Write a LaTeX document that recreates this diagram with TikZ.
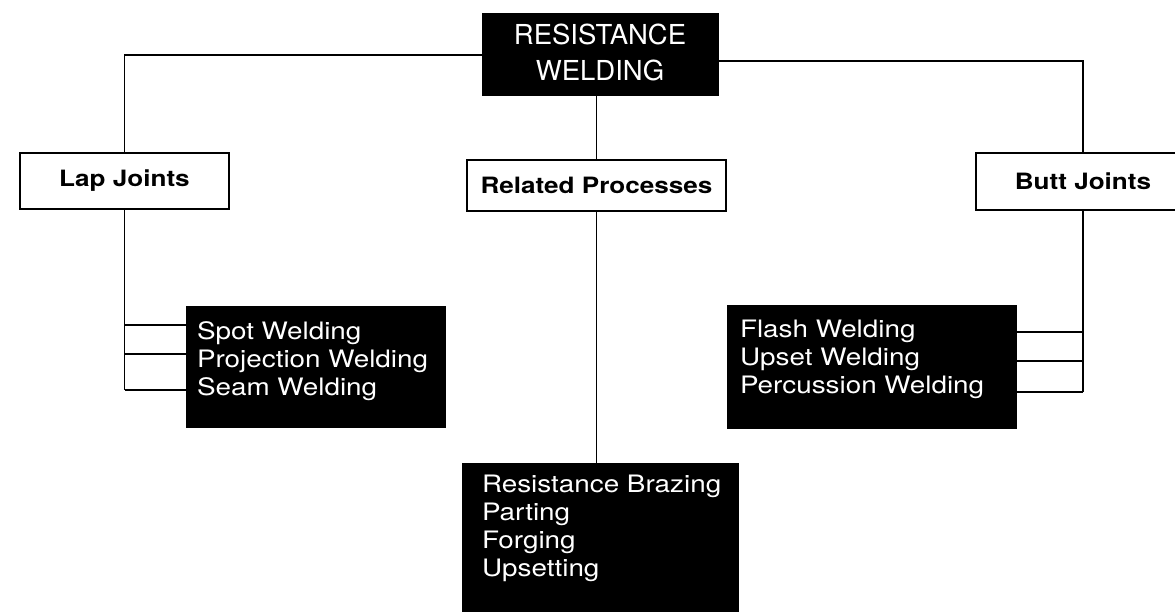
\documentclass[tikz,border=0pt]{standalone}
\usepackage{fontspec}
\setmainfont{TeX Gyre Heros}[FakeStretch=1.16]
\newfontfamily\titlefont{TeX Gyre Heros}
\begin{document}
\begin{tikzpicture}[x=1pt,y=1pt,
  conn/.style={line width=1.1pt},
  head/.style={draw=black, line width=1.8pt, fill=white, inner sep=0pt,
    font=\fontsize{22.5}{27}\selectfont\bfseries},
  dark/.style={fill=black, draw=black, inner sep=0pt},
  listtext/.style={text=white, font=\fontsize{24}{28}\selectfont, align=left,
    inner sep=0pt, anchor=north west}]
\useasboundingbox (0,0) rectangle (1175,-612);

% main box
\node[dark, minimum width=236pt, minimum height=82pt] (rw) at (600,-54) {};
\node[text=white, align=center, inner sep=0pt,
  font=\titlefont\fontsize{27.5}{36}\selectfont] (rwt) at ([yshift=2pt]rw.center) {RESISTANCE\\WELDING};

% headings
\node[head, minimum width=209pt, minimum height=56pt] (lap) at (124.5,-181) {Lap Joints};
\node[head, minimum width=259pt, minimum height=51pt] (rel) at (596.5,-185.5) {Related Processes};
\node[head, minimum width=214pt, minimum height=57pt] (butt) at (1083,-181.5) {Butt Joints};

% lists
\node[dark, minimum width=259pt, minimum height=121pt] (ll) at (315.5,-366.5) {};
\node[listtext] (llt) at ([shift={(11,-16)}]ll.north west) {Spot Welding\\Projection Welding\\Seam Welding};
\node[dark, minimum width=289pt, minimum height=123pt] (bl) at (871.5,-366.5) {};
\node[listtext] (blt) at ([shift={(13,-15)}]bl.north west) {Flash Welding\\Upset Welding\\Percussion Welding};
\node[dark, minimum width=276pt, minimum height=157pt] (rl) at (600,-541.5) {};
\node[listtext] (rlt) at ([shift={(20,-12)}]rl.north west) {Resistance Brazing\\Parting\\Forging\\Upsetting};

% connectors
\coordinate (lc) at (124.5,-55);
\coordinate (rc) at (1083,-61);
\draw[conn] (rw.west |- lc) -- (lc) -- (lap.north);
\draw[conn] (rw.east |- rc) -- (rc) -- (butt.north);
\draw[conn] (rel.north |- rw.south) -- (rel.north);
\draw[conn] (rel.south) -- (rel.south |- rl.north);

\coordinate (lb1) at (124.5,-325);
\coordinate (lb2) at (124.5,-354);
\coordinate (lb3) at (124.5,-390);
\draw[conn] (lap.south) -- (lb3);
\draw[conn] (lb1) -- (lb1 -| ll.west);
\draw[conn] (lb2) -- (lb2 -| ll.west);
\draw[conn] (lb3) -- (lb3 -| ll.west);

\coordinate (bb1) at (1083,-332);
\coordinate (bb2) at (1083,-361);
\coordinate (bb3) at (1083,-392);
\draw[conn] (butt.south) -- (bb3);
\draw[conn] (bb1) -- (bb1 -| bl.east);
\draw[conn] (bb2) -- (bb2 -| bl.east);
\draw[conn] (bb3) -- (bb3 -| bl.east);
\end{tikzpicture}
\end{document}
